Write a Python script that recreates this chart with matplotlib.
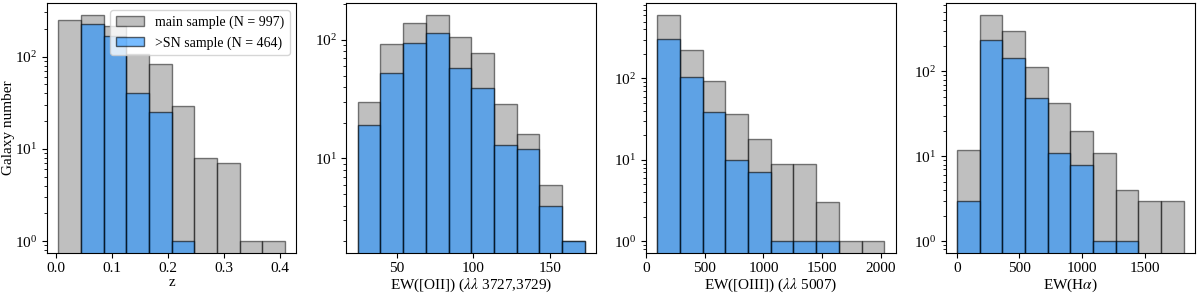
#!/usr/bin/env python3
"""Histograms of redshift and emission-line EWs for the main and >SN samples."""
import numpy as np
import matplotlib
matplotlib.use('Agg')
import matplotlib.pyplot as plt

plt.rcParams['font.family'] = ['Liberation Serif', 'DejaVu Serif']
plt.rcParams['mathtext.fontset'] = 'stix'
plt.rcParams['font.size'] = 11
plt.rcParams['legend.fontsize'] = 10

# bin ranges (10 equal bins each)
z_range = (0.004, 0.410)
oii_range = (24.4, 172.9)
oiii_range = (94.0, 2031.0)
ha_range = (1.0, 1813.0)

# counts per bin: main sample / >SN sample
z_main = [250, 285, 215, 107, 84, 29, 8, 7, 1, 1]
z_sn = [0, 224, 166, 40, 25, 1, 0, 0, 0, 0]

oii_main = [30, 93, 140, 164, 107, 77, 29, 16, 6, 2]
oii_sn = [19, 53, 94, 115, 58, 39, 13, 12, 4, 2]

oiii_main = [610, 222, 94, 37, 18, 9, 9, 3, 1, 1]
oiii_sn = [309, 105, 39, 10, 7, 1, 1, 1, 0, 0]

ha_main = [12, 467, 297, 113, 43, 20, 11, 4, 3, 3]
ha_sn = [3, 232, 144, 48, 11, 8, 1, 1, 0, 0]

xlabels = ['z',
           r'EW([OII]) ($\lambda\lambda$ 3727,3729)',
           r'EW([OIII]) ($\lambda\lambda$ 5007)',
           r'EW(H$\alpha$)']

panels = [(z_range, z_main, z_sn),
          (oii_range, oii_main, oii_sn),
          (oiii_range, oiii_main, oiii_sn),
          (ha_range, ha_main, ha_sn)]

fig, axes = plt.subplots(1, 4, figsize=(12, 2.93), dpi=100)
fig.subplots_adjust(left=0.039, right=0.996, top=0.989, bottom=0.138, wspace=0.2)

for ax, (rng, main, sn), xl in zip(axes, panels, xlabels):
    edges = np.linspace(rng[0], rng[1], len(main) + 1)
    centers = 0.5 * (edges[:-1] + edges[1:])
    ax.hist(centers, bins=edges, weights=main, log=True, color='gray',
            alpha=0.5, edgecolor='black', label='main sample (N = 997)')
    ax.hist(centers, bins=edges, weights=sn, log=True, color='dodgerblue',
            alpha=0.6, edgecolor='black', label='>SN sample (N = 464)')
    ax.set_xlabel(xl)
    ax.xaxis.set_label_coords(0.5, -0.095)

axes[0].set_ylabel('Galaxy number')
axes[0].yaxis.set_label_coords(-0.128, 0.5)
axes[0].legend(loc='upper right')

fig.savefig('out.png', dpi=100)
